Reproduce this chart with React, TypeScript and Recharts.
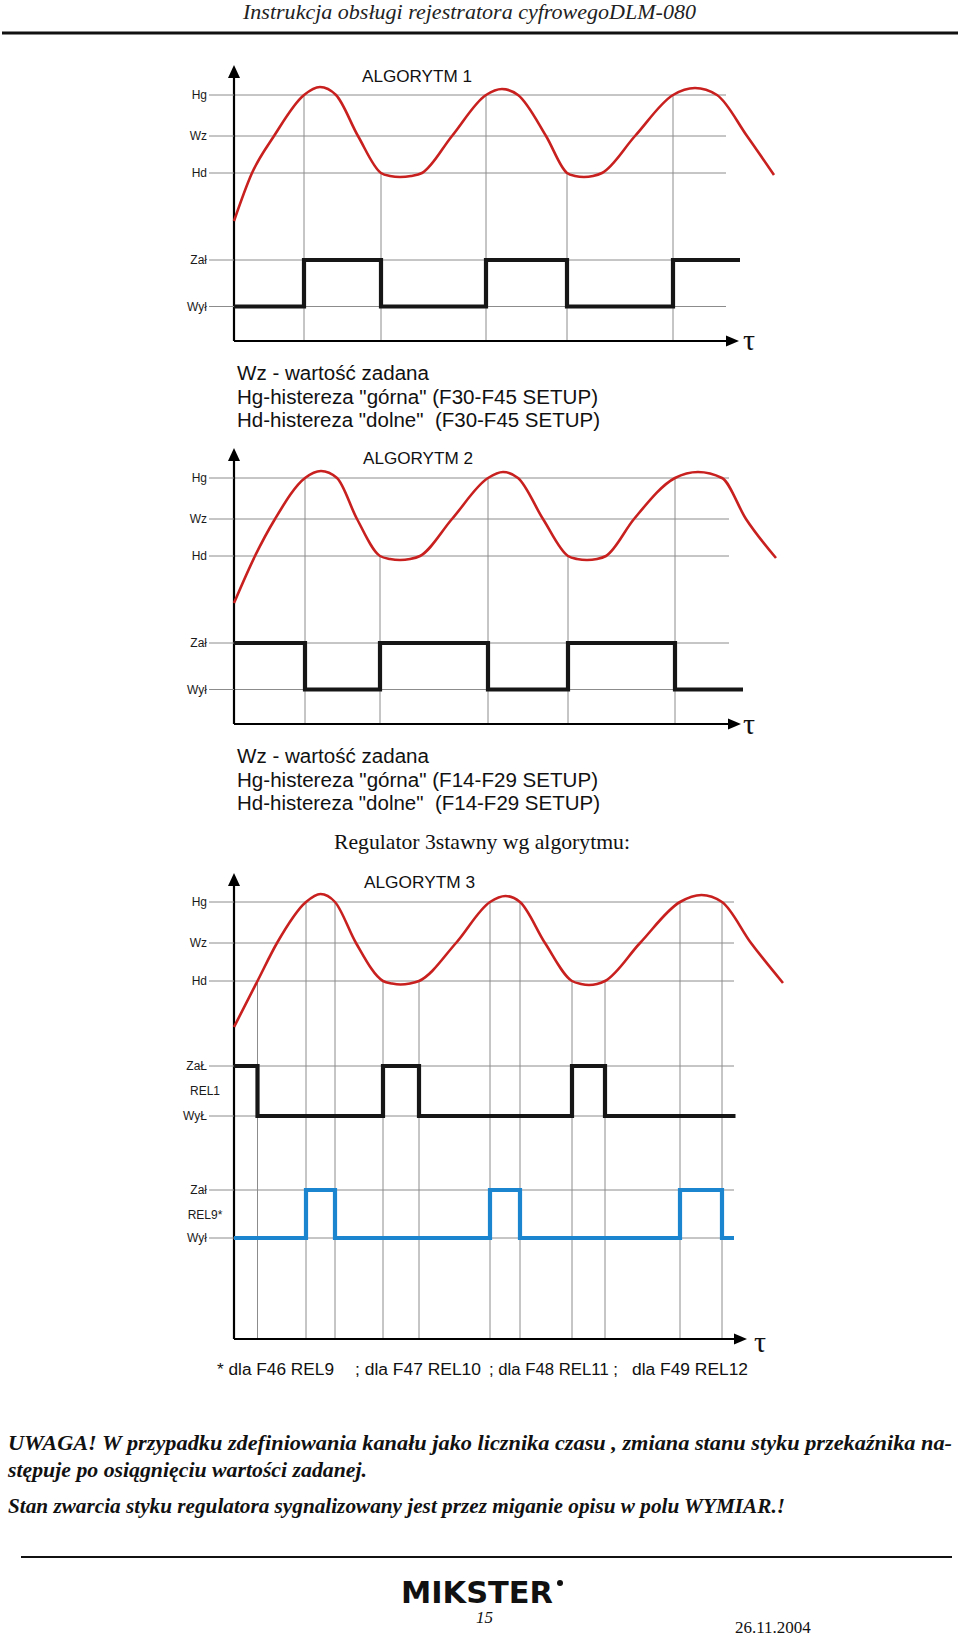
import { ComposedChart, Line, XAxis, YAxis, ReferenceLine, ReferenceDot } from "recharts"

const SANS = "'Liberation Sans', Arial, sans-serif"
const SERIF = "'Liberation Serif', 'Times New Roman', serif"

// poziomy na osi Y - algorytm 1 i 2
const levelNames12 = ["Hg", "Wz", "Hd", "Zał", "Wył"]
const levelValues12 = [24.6, 20.5, 16.8, 8.1, 3.45]

// poziomy na osi Y - algorytm 3
const levelNames3 = ["Hg", "Wz", "Hd", "ZaŁ", "WyŁ", "Zał", "Wył"]
const levelValues3 = [43.7, 39.6, 35.8, 27.3, 22.3, 14.9, 10.1]
const relayNames3 = ["REL1", "REL9*"]
const relayValues3 = [24.8, 12.4]

// ALGORYTM 1
const curve1Time = [0, 1.8, 4.0, 7.0, 8.6, 10.2, 12.4, 14.7, 15.6, 16.6, 17.7, 18.8, 21.8, 25.2, 26.8, 28.4, 31.2, 33.3, 34.1, 35.0, 35.9, 36.8, 40.1, 43.9, 46.1, 48.3, 51.3, 54.0]
const curve1Value = [12.0, 16.8, 20.5, 24.6, 25.4, 24.6, 20.5, 16.8, 16.5, 16.4, 16.5, 16.8, 20.5, 24.6, 25.2, 24.6, 20.5, 16.8, 16.5, 16.4, 16.5, 16.8, 20.5, 24.6, 25.3, 24.6, 20.5, 16.6]
const relay1Time = [0, 7.0, 14.7, 25.2, 33.3, 43.9, 50.6]
const relay1State = [0, 1, 0, 1, 0, 1, 1]
const marks1Time = [7.0, 14.7, 25.2, 33.3, 43.9]
const marks1Level = ["Hg", "Hd", "Hg", "Hd", "Hg"]

// ALGORYTM 2
const curve2Time = [0, 2.1, 4.1, 7.1, 8.7, 10.3, 12.3, 14.6, 15.6, 16.6, 17.6, 18.6, 21.8, 25.4, 26.9, 28.4, 30.9, 33.4, 34.3, 35.3, 36.3, 37.2, 40.0, 44.1, 46.4, 48.8, 51.2, 54.2]
const curve2Value = [12.1, 16.8, 20.5, 24.6, 25.3, 24.6, 20.5, 16.8, 16.5, 16.4, 16.5, 16.8, 20.5, 24.6, 25.2, 24.6, 20.5, 16.8, 16.5, 16.4, 16.5, 16.8, 20.5, 24.6, 25.2, 24.6, 20.5, 16.6]
const relay2Time = [0, 7.1, 14.6, 25.4, 33.4, 44.1, 50.9]
const relay2State = [1, 0, 1, 0, 1, 0, 0]
const marks2Time = [7.1, 14.6, 25.4, 33.4, 44.1]
const marks2Level = ["Hg", "Hd", "Hg", "Hd", "Hg"]

// ALGORYTM 3
const curve3Time = [0, 2.35, 4.3, 7.2, 8.65, 10.1, 12.2, 14.9, 15.8, 16.65, 17.6, 18.5, 22.2, 25.6, 27.15, 28.6, 31.1, 33.8, 34.7, 35.5, 36.3, 37.1, 40.6, 44.6, 46.75, 48.8, 51.7, 54.9]
const curve3Value = [31.2, 35.8, 39.6, 43.7, 44.5, 43.7, 39.6, 35.8, 35.55, 35.45, 35.55, 35.8, 39.6, 43.7, 44.3, 43.7, 39.6, 35.8, 35.5, 35.4, 35.5, 35.8, 39.6, 43.7, 44.4, 43.7, 39.6, 35.6]
const rel1Time = [0, 2.35, 14.9, 18.5, 33.8, 37.1, 50.15]
const rel1State = [1, 0, 1, 0, 1, 0, 0]
const rel9Time = [0, 7.2, 10.1, 25.6, 28.6, 44.6, 48.8, 50.0]
const rel9State = [0, 1, 0, 1, 0, 1, 0, 0]
const marks3Time = [2.35, 7.2, 10.1, 14.9, 18.5, 25.6, 28.6, 33.8, 37.1, 44.6, 48.8]
const marks3Level = ["Hd", "Hg", "Hg", "Hd", "Hd", "Hg", "Hg", "Hd", "Hd", "Hg", "Hg"]

const toPoints = (t: number[], v: number[]) => t.map((x, i) => ({ t: x, v: v[i] }))
const toRelay = (t: number[], s: number[], on: number, off: number) =>
  t.map((x, i) => ({ t: x, v: s[i] ? on : off }))

const AXIS_W = 84
const RED = "#c8201e"
const GRID = "#8c8c8c"

type Track = { data: { t: number; v: number }[]; color: string }

type DiagramProps = {
  top: number
  yMax: number
  yTip: number
  xTip: number
  gridEnd: number
  names: string[]
  values: number[]
  relNames?: string[]
  relValues?: number[]
  curve: { t: number; v: number }[]
  tracks: Track[]
  markTime: number[]
  markLevel: string[]
}

function Diagram(p: DiagramProps) {
  const relNames = p.relNames || []
  const relValues = p.relValues || []
  const ticks = [...p.values, ...relValues]
  const lvl = (name: string) => p.values[p.names.indexOf(name)]

  const renderTick = (props: any) => {
    const y = props.y
    const val = props.payload.value
    const ri = relValues.indexOf(val)
    if (ri >= 0) {
      return (
        <text x={AXIS_W - 29} y={y} dy={4} textAnchor="middle" fontFamily={SANS} fontSize={12} fill="#1a1a1a">
          {relNames[ri]}
        </text>
      )
    }
    const label = p.names[p.values.indexOf(val)]
    return (
      <g>
        <line x1={AXIS_W - 25} x2={AXIS_W} y1={y} y2={y} stroke={GRID} strokeWidth={1} />
        <text x={AXIS_W - 27} y={y} dy={4} textAnchor="end" fontFamily={SANS} fontSize={12} fill="#1a1a1a">
          {label}
        </text>
      </g>
    )
  }

  const upArrow = (props: any) => (
    <path d={`M${props.cx},${props.cy} L${props.cx - 6},${props.cy + 13} L${props.cx + 6},${props.cy + 13} Z`} fill="#000" />
  )
  const rightArrow = (props: any) => (
    <path d={`M${props.cx},${props.cy} L${props.cx - 13},${props.cy - 5.5} L${props.cx - 13},${props.cy + 5.5} Z`} fill="#000" />
  )

  return (
    <div style={{ position: "absolute", left: 150, top: p.top }}>
      <ComposedChart width={684} height={p.yMax * 10 + 30} margin={{ top: 15, right: 40, bottom: 15, left: 0 }}>
        <XAxis type="number" dataKey="t" domain={[0, 56]} hide />
        <YAxis
          type="number"
          domain={[0, p.yMax]}
          width={AXIS_W}
          ticks={ticks}
          interval={0}
          axisLine={false}
          tickLine={false}
          tick={renderTick}
        />
        {p.values.map((v) => (
          <ReferenceLine key={"h" + v} segment={[{ x: 0, y: v }, { x: p.gridEnd, y: v }]} stroke={GRID} strokeWidth={1} />
        ))}
        {p.markTime.map((t, i) => (
          <ReferenceLine key={"m" + t} segment={[{ x: t, y: 0 }, { x: t, y: lvl(p.markLevel[i]) }]} stroke={GRID} strokeWidth={1} />
        ))}
        <ReferenceLine segment={[{ x: 0, y: 0 }, { x: 0, y: p.yTip - 0.8 }]} stroke="#000" strokeWidth={2.2} />
        <ReferenceLine segment={[{ x: 0, y: 0 }, { x: p.xTip - 0.8, y: 0 }]} stroke="#000" strokeWidth={2.2} />
        <ReferenceDot x={0} y={p.yTip} r={6} shape={upArrow} ifOverflow="visible" />
        <ReferenceDot x={p.xTip} y={0} r={6} shape={rightArrow} ifOverflow="visible" />
        <Line
          data={p.curve}
          dataKey="v"
          type="monotone"
          stroke={RED}
          strokeWidth={2.6}
          dot={false}
          activeDot={false}
          isAnimationActive={false}
        />
        {p.tracks.map((tr, i) => (
          <Line
            key={"r" + i}
            data={tr.data}
            dataKey="v"
            type="stepAfter"
            stroke={tr.color}
            strokeWidth={4.2}
            strokeLinejoin="miter"
            dot={false}
            activeDot={false}
            isAnimationActive={false}
          />
        ))}
      </ComposedChart>
    </div>
  )
}

function Legend({ y, code }: { y: number; code: string }) {
  return (
    <g fontFamily={SANS} fontSize={20} fill="#111">
      <text x={237} y={y} textLength={192} lengthAdjust="spacingAndGlyphs">Wz - wartość zadana</text>
      <text x={237} y={y + 23.5} textLength={361} lengthAdjust="spacingAndGlyphs">{`Hg-histereza "górna" (${code} SETUP)`}</text>
      <text x={237} y={y + 46.5} textLength={363} lengthAdjust="spacingAndGlyphs" style={{ whiteSpace: "pre" }}>{`Hd-histereza "dolne"  (${code} SETUP)`}</text>
    </g>
  )
}

export default function App() {
  const zal12 = levelValues12[3]
  const wyl12 = levelValues12[4]
  return (
    <div style={{ position: "absolute", left: 0, top: 0, width: 960, height: 1636, background: "#fff", overflow: "hidden" }}>
      <Diagram
        top={46}
        yMax={28}
        yTip={27.6}
        xTip={50.5}
        gridEnd={49.2}
        names={levelNames12}
        values={levelValues12}
        curve={toPoints(curve1Time, curve1Value)}
        tracks={[{ data: toRelay(relay1Time, relay1State, zal12, wyl12), color: "#161616" }]}
        markTime={marks1Time}
        markLevel={marks1Level}
      />
      <Diagram
        top={429}
        yMax={28}
        yTip={27.6}
        xTip={50.7}
        gridEnd={49.5}
        names={levelNames12}
        values={levelValues12}
        curve={toPoints(curve2Time, curve2Value)}
        tracks={[{ data: toRelay(relay2Time, relay2State, zal12, wyl12), color: "#161616" }]}
        markTime={marks2Time}
        markLevel={marks2Level}
      />
      <Diagram
        top={854}
        yMax={47}
        yTip={46.6}
        xTip={51.3}
        gridEnd={50.0}
        names={levelNames3}
        values={levelValues3}
        relNames={relayNames3}
        relValues={relayValues3}
        curve={toPoints(curve3Time, curve3Value)}
        tracks={[
          { data: toRelay(rel1Time, rel1State, levelValues3[3], levelValues3[4]), color: "#161616" },
          { data: toRelay(rel9Time, rel9State, levelValues3[5], levelValues3[6]), color: "#1b86cf" },
        ]}
        markTime={marks3Time}
        markLevel={marks3Level}
      />
      <svg width={960} height={1636} style={{ position: "absolute", left: 0, top: 0, pointerEvents: "none" }}>
        <text x={243} y={19} fontFamily={SERIF} fontStyle="italic" fontSize={22} fill="#222" textLength={453} lengthAdjust="spacingAndGlyphs">
          Instrukcja obsługi rejestratora cyfrowegoDLM-080
        </text>
        <line x1={2} x2={958} y1={33} y2={33} stroke="#111" strokeWidth={2.8} />

        <g fontFamily={SANS} fontSize={16.5} fill="#111">
          <text x={362} y={82} textLength={110} lengthAdjust="spacingAndGlyphs">ALGORYTM 1</text>
          <text x={363} y={464} textLength={110} lengthAdjust="spacingAndGlyphs">ALGORYTM 2</text>
          <text x={364} y={888} textLength={111} lengthAdjust="spacingAndGlyphs">ALGORYTM 3</text>
        </g>

        <g fontFamily={SERIF} fontSize={30} fill="#111">
          <text x={743} y={350}>τ</text>
          <text x={743} y={734}>τ</text>
          <text x={754} y={1352}>τ</text>
        </g>

        <Legend y={380} code="F30-F45" />
        <Legend y={763} code="F14-F29" />

        <text x={334} y={849} fontFamily={SERIF} fontSize={21.5} fill="#111" textLength={296} lengthAdjust="spacingAndGlyphs">
          Regulator 3stawny wg algorytmu:
        </text>

        <g fontFamily={SANS} fontSize={16} fill="#111" style={{ whiteSpace: "pre" }}>
          <text x={217} y={1375} textLength={117} lengthAdjust="spacingAndGlyphs">* dla F46  REL9</text>
          <text x={355} y={1375} textLength={126} lengthAdjust="spacingAndGlyphs">; dla F47  REL10</text>
          <text x={489} y={1375} textLength={129} lengthAdjust="spacingAndGlyphs">; dla F48  REL11 ;</text>
          <text x={632} y={1375} textLength={116} lengthAdjust="spacingAndGlyphs">dla F49  REL12</text>
        </g>

        <g fontFamily={SERIF} fontStyle="italic" fontWeight="bold" fontSize={21} fill="#111">
          <text x={8} y={1450} textLength={944} lengthAdjust="spacingAndGlyphs">
            UWAGA! W przypadku zdefiniowania kanału jako licznika czasu , zmiana stanu styku przekaźnika na-
          </text>
          <text x={8} y={1477} textLength={359} lengthAdjust="spacingAndGlyphs">stępuje po osiągnięciu wartości zadanej.</text>
          <text x={8} y={1513} textLength={777} lengthAdjust="spacingAndGlyphs">Stan zwarcia styku regulatora sygnalizowany jest przez miganie opisu w polu WYMIAR.!</text>
        </g>

        <line x1={21} x2={952} y1={1557} y2={1557} stroke="#111" strokeWidth={2} />
        <text x={401} y={1603} fontFamily="'DejaVu Sans', sans-serif" fontWeight="bold" fontSize={30} fill="#111" textLength={152} lengthAdjust="spacingAndGlyphs">
          MIKSTER
        </text>
        <circle cx={560} cy={1583} r={3} fill="#111" />
        <text x={476} y={1623} fontFamily={SERIF} fontStyle="italic" fontSize={17} fill="#111">15</text>
        <text x={735} y={1633} fontFamily={SERIF} fontSize={17} fill="#111">26.11.2004</text>
      </svg>
    </div>
  )
}
